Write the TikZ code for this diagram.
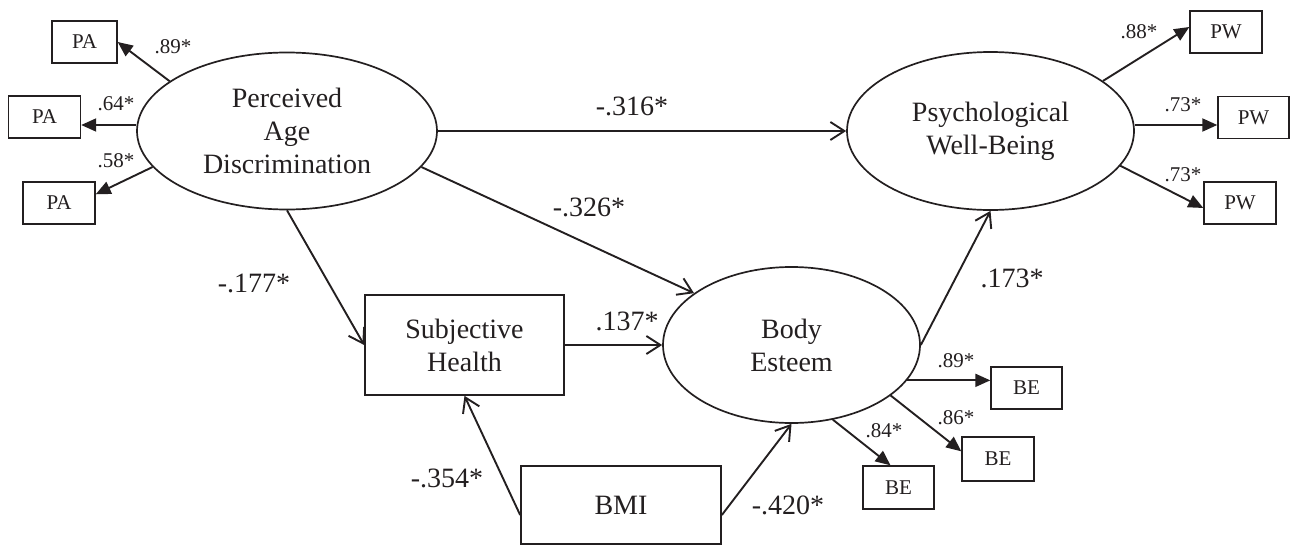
\documentclass[tikz,border=0pt]{standalone}
\usepackage{fontspec}
\setmainfont{Liberation Serif}
\usetikzlibrary{arrows.meta,shapes.geometric,calc}
\definecolor{ink}{RGB}{35,31,32}
\newcommand\bigfont{\fontsize{28}{33}\selectfont}
\newcommand\smallfont{\fontsize{21}{24}\selectfont}
\begin{document}
\begin{tikzpicture}[x=1pt,y=-1pt,
  every node/.style={text=ink},
  latent/.style={ellipse,draw=ink,line width=1.7pt,inner sep=0pt,align=center,font=\bigfont},
  observed/.style={rectangle,draw=ink,line width=1.7pt,inner sep=0pt,align=center,font=\bigfont},
  indicator/.style={rectangle,draw=ink,line width=1.4pt,inner sep=0pt,minimum height=42,minimum width=72,font=\smallfont},
  path/.style={draw=ink,line width=1.9pt,-{Straight Barb[length=14pt,width=18pt,line width=1.9pt]}},
  load/.style={draw=ink,line width=1.9pt,-{Triangle[length=15pt,width=13pt]}},
  coef/.style={font=\bigfont,inner sep=0pt},
  scoef/.style={font=\smallfont,inner sep=0pt}]
\useasboundingbox (0,0) rectangle (1290,546);

% latent variables
\node[latent,minimum width=300,minimum height=157] (pad) at (287,131) {Perceived\\Age\\Discrimination};
\node[latent,minimum width=287,minimum height=158] (pw) at (990.5,131) {Psychological\\Well-Being};
\node[latent,minimum width=257,minimum height=156] (be) at (791.5,345) {Body\\Esteem};

% observed variables
\node[observed,minimum width=199,minimum height=100] (sh) at (464.5,345) {Subjective\\Health};
\node[observed,minimum width=200,minimum height=78] (bmi) at (621,505) {BMI};

% indicators
\node[indicator,minimum width=65] (pa1) at (84.5,42) {PA};
\node[indicator] (pa2) at (44.5,117) {PA};
\node[indicator] (pa3) at (59,203) {PA};
\node[indicator] (pw1) at (1226,32) {PW};
\node[indicator,minimum width=71] (pw2) at (1253.5,117.5) {PW};
\node[indicator] (pw3) at (1240,203) {PW};
\node[indicator,minimum width=71] (be1) at (1026.5,388) {BE};
\node[indicator,minimum height=44] (be2) at (998,459) {BE};
\node[indicator,minimum width=71,minimum height=43] (be3) at (898.5,487.5) {BE};

% structural paths
\draw[path] (pad.east) -- (pad.east -| pw.west);
\draw[path] (pad.-15) -- (be.152);
\draw[path] (pad.south) -- (sh.west);
\draw[path] (sh.east) -- (be.west);
\draw[path] ([yshift=-10pt]bmi.west) -- (sh.south);
\draw[path] ([yshift=-10pt]bmi.east) -- (be.south);
\draw[path] (be.east) -- (pw.south);

% loadings
\coordinate (padw) at ($(pad.west)+(0,-6)$);
\coordinate (pwe) at ($(pw.east)+(0,-6)$);
\draw[load] (pad.157) -- (pa1.east);
\draw[load] (padw) -- (padw -| pa2.east);
\draw[load] (pad.195) -- ($(pa3.north east)+(0,13)$);
\draw[load] (pw.24) -- ($(pw1.west)+(0,-5)$);
\draw[load] (pwe) -- (pwe -| pw2.west);
\draw[load] (pw.-15.5) -- ($(pw3.west)+(0,5)$);
\draw[load] (be.-17) -- (be.-17 -| be1.west);
\draw[load] (be.-27) -- ($(be2.north west)+(0,15)$);
\draw[load] (be.-61) -- ($(be3.north)+(-8,0)$);

% coefficients
\node[coef] (c316) at (632,106.5) {-.316*};
\node[coef] (c326) at (589,207.5) {-.326*};
\node[coef] (c177) at (254,283) {-.177*};
\node[coef] (c137) at (627,321) {.137*};
\node[coef] (c354) at (447,478) {-.354*};
\node[coef] (c420) at (788,505) {-.420*};
\node[coef] (c173) at (1012,278) {.173*};

\node[scoef] (l1) at (173,47) {.89*};
\node[scoef] (l2) at (116,104) {.64*};
\node[scoef] (l3) at (116,161) {.58*};
\node[scoef] (l4) at (1139,32) {.88*};
\node[scoef] (l5) at (1183,105) {.73*};
\node[scoef] (l6) at (1183,175) {.73*};
\node[scoef] (l7) at (956,361) {.89*};
\node[scoef] (l8) at (956,418) {.86*};
\node[scoef] (l9) at (884,431) {.84*};
\end{tikzpicture}
\end{document}
